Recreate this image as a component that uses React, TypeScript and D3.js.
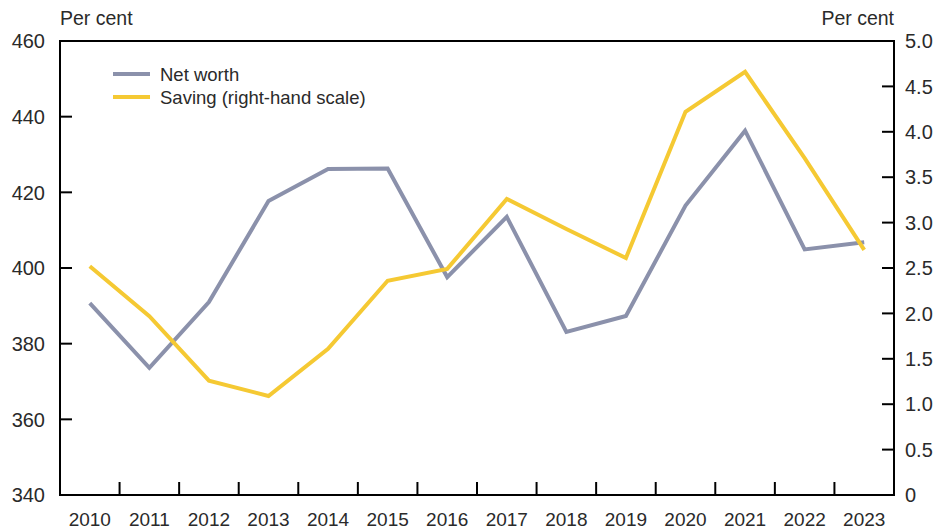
import React from "react";
import * as d3 from "d3";

const years = ["2010","2011","2012","2013","2014","2015","2016","2017","2018","2019","2020","2021","2022","2023"];
const netWorth = [390.7, 373.6, 391.0, 417.7, 426.2, 426.3, 397.6, 413.5, 383.1, 387.3, 416.5, 436.3, 404.9, 406.8];
const saving = [2.52, 1.97, 1.26, 1.09, 1.61, 2.36, 2.49, 3.26, 2.93, 2.61, 4.22, 4.66, 3.71, 2.70];
const leftTicks = [340, 360, 380, 400, 420, 440, 460];
const rightTicks = [0, 0.5, 1.0, 1.5, 2.0, 2.5, 3.0, 3.5, 4.0, 4.5, 5.0];
const seriesNames = ["Net worth", "Saving (right-hand scale)"];
const colors = ["#8b91ab", "#f5c933"];

const W = 939, H = 531;
const L = 60, R = 894, T = 41, B = 495;
const font = "'Liberation Sans', Arial, Helvetica, sans-serif";

export default function App() {
  const x = d3.scaleBand<string>().domain(years).range([L, R]);
  const yL = d3.scaleLinear().domain([340, 460]).range([B, T]);
  const yR = d3.scaleLinear().domain([0, 5]).range([B, T]);
  const cx = (d: string) => (x(d) as number) + x.bandwidth() / 2;
  const lineL = d3.line<number>().x((_, i) => cx(years[i])).y((v) => yL(v));
  const lineR = d3.line<number>().x((_, i) => cx(years[i])).y((v) => yR(v));
  const tickFs = 20;
  const txt = "#2a2a2a";
  return (
    <svg width={W} height={H} style={{ position: "absolute", left: 0, top: 0, background: "#fff" }}>
      <rect x={0} y={0} width={W} height={H} fill="#fff" />
      <rect x={L} y={T} width={R - L} height={B - T} fill="none" stroke="#000" strokeWidth={2} />
      {leftTicks.map((t) => (
        <g key={"l" + t}>
          <line x1={L} x2={L + 12} y1={yL(t)} y2={yL(t)} stroke="#000" strokeWidth={2} />
          <text x={45} y={yL(t)} dy="0.36em" textAnchor="end" fontFamily={font} fontSize={tickFs} fill={txt}>{t}</text>
        </g>
      ))}
      {rightTicks.map((t) => (
        <g key={"r" + t}>
          <line x1={R - 12} x2={R} y1={yR(t)} y2={yR(t)} stroke="#000" strokeWidth={2} />
          <text x={905} y={yR(t)} dy="0.36em" textAnchor="start" fontFamily={font} fontSize={tickFs} fill={txt}>{t === 0 ? "0" : t.toFixed(1)}</text>
        </g>
      ))}
      {years.slice(1).map((yr) => (
        <line key={"b" + yr} x1={x(yr) as number} x2={x(yr) as number} y1={B} y2={B - 13} stroke="#000" strokeWidth={2} />
      ))}
      {years.map((yr) => (
        <text key={"bl" + yr} x={cx(yr)} y={526} textAnchor="middle" fontFamily={font} fontSize={19} fill={txt}>{yr}</text>
      ))}
      <text x={L} y={25} fontFamily={font} fontSize={19.5} fill={txt}>Per cent</text>
      <text x={R} y={25} textAnchor="end" fontFamily={font} fontSize={19.5} fill={txt}>Per cent</text>
      <path d={lineL(netWorth) || ""} fill="none" stroke={colors[0]} strokeWidth={4} strokeLinejoin="miter" />
      <path d={lineR(saving) || ""} fill="none" stroke={colors[1]} strokeWidth={4} strokeLinejoin="miter" />
      {seriesNames.map((n, i) => (
        <g key={n}>
          <line x1={113} x2={150} y1={74 + i * 23} y2={74 + i * 23} stroke={colors[i]} strokeWidth={4} />
          <text x={160} y={74 + i * 23} dy="0.36em" fontFamily={font} fontSize={18.5} fill={txt}>{n}</text>
        </g>
      ))}
    </svg>
  );
}
